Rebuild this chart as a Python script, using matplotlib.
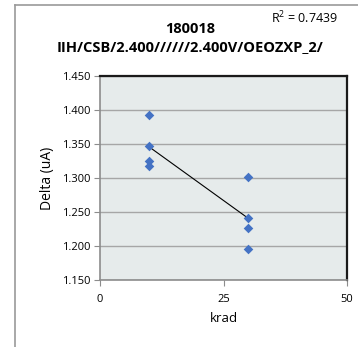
import numpy as np
import matplotlib
matplotlib.use("Agg")
import matplotlib.pyplot as plt
from matplotlib.lines import Line2D

# data
krad = [10, 10, 10, 10, 30, 30, 30, 30]
delta = [1.393, 1.347, 1.325, 1.317, 1.301, 1.241, 1.226, 1.195]
title_lines = ["180018", "IIH/CSB/2.400//////2.400V/OEOZXP_2/"]
r2_text = "R$^2$ = 0.7439"
yticks = [1.150, 1.200, 1.250, 1.300, 1.350, 1.400, 1.450]
xticks = [0, 25, 50]

plt.rcParams['font.family'] = ['Open Sans', 'DejaVu Sans']
plt.rcParams['mathtext.fontset'] = 'custom'
plt.rcParams['mathtext.rm'] = 'Open Sans'

W, H = 358, 347
fig = plt.figure(figsize=(W/100, H/100), dpi=100)
fig.patch.set_facecolor("white")

# outer chart border
fig.add_artist(Line2D([15/W, 15/W], [0, 1-5/H], color="#9a9a9a", lw=1.2))
fig.add_artist(Line2D([15/W, 1], [1-5/H, 1-5/H], color="#9a9a9a", lw=1.2))

ax = fig.add_axes([100/W, 1-280/H, 247/W, 204/H])
ax.set_facecolor("#e6ebeb")

res = np.polyfit(krad, delta, 1)
xl = np.array([min(krad), max(krad)])
ax.plot(xl, np.poly1d(res)(xl), color="black", lw=0.8, zorder=2)
ax.scatter(krad, delta, marker="D", s=24, color="#4472c4", zorder=3, linewidths=0)

ax.set_xlim(0, 50)
ax.set_ylim(1.150, 1.450)
ax.set_xticks(xticks)
ax.set_yticks(yticks)
ax.set_yticklabels(["%.3f" % v for v in yticks])
ax.yaxis.grid(True, color="#a6a6a6", lw=1.0)
ax.set_axisbelow(True)
ax.tick_params(labelsize=8, length=4, color="#8c8c8c", pad=3)
ax.tick_params(axis="x", pad=6)

for s in ["left", "bottom"]:
    ax.spines[s].set_color("#8c8c8c")
    ax.spines[s].set_linewidth(1.2)
for s in ["right", "top"]:
    ax.spines[s].set_color("#1a1a1a")
    ax.spines[s].set_linewidth(1.6)

ax.set_xlabel("krad", fontsize=9.5, labelpad=5)
ax.set_ylabel("Delta (uA)", fontsize=10, labelpad=5)

fig.text(190/W, 1-29/H, title_lines[0], ha="center", va="center", fontsize=10.5, fontweight="bold")
fig.text(190/W, 1-47/H, title_lines[1], ha="center", va="center", fontsize=10.5, fontweight="bold")
fig.text(305/W, 1-18/H, r2_text, ha="center", va="center", fontsize=9)

fig.savefig("out.png", dpi=100)
